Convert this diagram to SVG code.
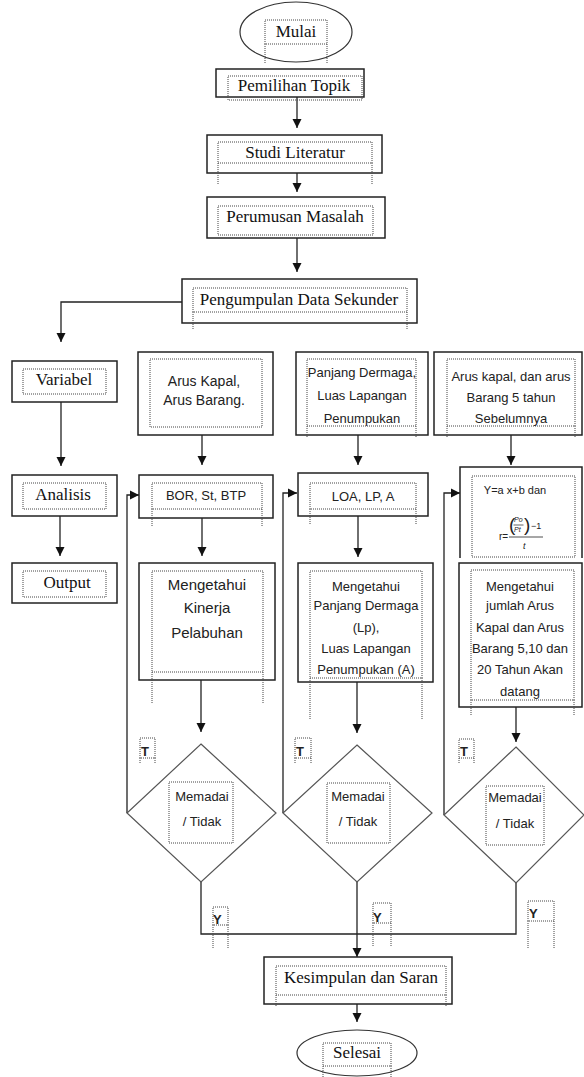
<svg xmlns="http://www.w3.org/2000/svg" width="584" height="1077" viewBox="0 0 584 1077">
<defs>
<marker id="ah" viewBox="0 0 10 10" refX="10" refY="5" markerWidth="9" markerHeight="10" markerUnits="userSpaceOnUse" orient="auto"><path d="M0,0 L10,5 L0,10 z" fill="#111"/></marker>
<style>
.box{fill:#fff;stroke:#222;stroke-width:1.5}
.dia{fill:#fff;stroke:#555;stroke-width:1.2}
.dot{fill:none;stroke:#444;stroke-width:1;stroke-dasharray:1 1}
.con{fill:none;stroke:#222;stroke-width:1.3}
.arr{marker-end:url(#ah)}
.ser{font-family:"Liberation Serif","Times New Roman",serif;font-size:17px;fill:#111;text-anchor:middle}
.san{font-family:"Liberation Sans",Arial,sans-serif;font-size:13px;fill:#222;text-anchor:middle}
.big{font-size:15px}
.lbl{font-family:"Liberation Sans",Arial,sans-serif;font-size:13px;font-weight:bold;fill:#222}
.frm{font-family:"Liberation Sans",Arial,sans-serif;fill:#222}
</style>
</defs>
<rect width="584" height="1077" fill="#fff"/>

<g id="connectors">
<path class="con arr" d="M297,97 V128"/>
<path class="con arr" d="M297,173 V192"/>
<path class="con arr" d="M297,238 V272"/>
<path class="con arr" d="M182,302 H61 V342"/>
<path class="con arr" d="M61,402 V466"/>
<path class="con arr" d="M60,516 V556"/>
<path class="con arr" d="M202,435 V465"/>
<path class="con arr" d="M202,518 V556"/>
<path class="con arr" d="M201,680 V732"/>
<path class="con arr" d="M127,813 V495 H139"/>
<path class="con arr" d="M358,435 V465"/>
<path class="con arr" d="M358,516 V557"/>
<path class="con arr" d="M357,682 V733"/>
<path class="con arr" d="M283,813 V493 H297"/>
<path class="con arr" d="M511,435 V465"/>
<path class="con arr" d="M516,707 V742"/>
<path class="con arr" d="M444,815 V493 H460"/>
<path class="con" d="M201,882 V934 H516 V883"/>
<path class="con arr" d="M357,882 V957"/>
<path class="con arr" d="M357,1004 V1022"/>
</g>

<g id="mulai">
<ellipse class="dia" cx="296" cy="32" rx="56" ry="30" style="stroke:#333"/>
<rect class="dot" x="265" y="20" width="62" height="24"/>
<path class="dot" d="M265,44 V63 M327,44 V63"/>
<text class="ser" x="296" y="37">Mulai</text>
</g>

<g id="pemilihan">
<rect class="box" x="216" y="69" width="148" height="28"/>
<rect class="dot" x="228" y="76" width="134" height="24"/>
<text class="ser" x="294" y="91">Pemilihan Topik</text>
</g>

<g id="studi">
<rect class="box" x="207" y="135" width="175" height="38"/>
<rect class="dot" x="218" y="142" width="154" height="21"/>
<path class="dot" d="M218,163 V185 M372,163 V185"/>
<text class="ser" x="295" y="158">Studi Literatur</text>
</g>

<g id="perumusan">
<rect class="box" x="207" y="197" width="178" height="41"/>
<rect class="dot" x="218" y="206" width="155" height="29"/>
<text class="ser" x="295" y="222">Perumusan Masalah</text>
</g>

<g id="pengumpulan">
<rect class="box" x="182" y="279" width="235" height="44"/>
<rect class="dot" x="193" y="288" width="214" height="24"/>
<path class="dot" d="M193,312 V330 M407,312 V330"/>
<text class="ser" x="299" y="305">Pengumpulan Data Sekunder</text>
</g>

<g id="variabel">
<rect class="box" x="12" y="361" width="105" height="41"/>
<rect class="dot" x="23" y="369" width="83" height="25"/>
<text class="ser" x="64" y="385">Variabel</text>
</g>

<g id="analisis">
<rect class="box" x="12" y="475" width="105" height="41"/>
<rect class="dot" x="23" y="483" width="83" height="26"/>
<text class="ser" x="63" y="500">Analisis</text>
</g>

<g id="output">
<rect class="box" x="12" y="563" width="105" height="40"/>
<rect class="dot" x="23" y="571" width="83" height="26"/>
<text class="ser" x="67" y="588">Output</text>
</g>

<g id="arus-kapal">
<rect class="box" x="138" y="352" width="135" height="83"/>
<rect class="dot" x="150" y="359" width="112" height="68"/>
<text class="san" x="204" y="386" style="font-size:14px">Arus Kapal,</text>
<text class="san" x="204" y="405" style="font-size:14px">Arus Barang.</text>
</g>

<g id="bor">
<rect class="box" x="139" y="475" width="134" height="43"/>
<rect class="dot" x="152" y="483" width="110" height="26"/>
<path class="dot" d="M152,509 V526 M262,509 V526"/>
<text class="san" x="206" y="500">BOR, St, BTP</text>
</g>

<g id="kinerja">
<rect class="box" x="139" y="563" width="136" height="117"/>
<rect class="dot" x="152" y="571" width="111" height="101"/>
<path class="dot" d="M152,672 V703 M263,672 V703"/>
<text class="san big" x="207" y="590">Mengetahui</text>
<text class="san big" x="207" y="613">Kinerja</text>
<text class="san big" x="207" y="638">Pelabuhan</text>
</g>

<g id="panjang">
<rect class="box" x="296" y="352" width="132" height="83"/>
<rect class="dot" x="307" y="359" width="109" height="67"/>
<path class="dot" d="M307,426 V437 M416,426 V437"/>
<text class="san" x="362" y="377">Panjang Dermaga,</text>
<text class="san" x="362" y="400">Luas Lapangan</text>
<text class="san" x="362" y="423">Penumpukan</text>
</g>

<g id="loa">
<rect class="box" x="298" y="473" width="130" height="43"/>
<rect class="dot" x="310" y="483" width="106" height="26"/>
<path class="dot" d="M310,509 V525 M416,509 V525"/>
<text class="san" x="363" y="501">LOA, LP, A</text>
</g>

<g id="meng-panjang">
<rect class="box" x="298" y="563" width="135" height="119"/>
<rect class="dot" x="310" y="571" width="112" height="107"/>
<path class="dot" d="M310,678 V720 M422,678 V720"/>
<text class="san" x="366" y="591">Mengetahui</text>
<text class="san" x="366" y="610">Panjang Dermaga</text>
<text class="san" x="366" y="632">(Lp),</text>
<text class="san" x="366" y="653">Luas Lapangan</text>
<text class="san" x="366" y="674">Penumpukan (A)</text>
</g>

<g id="arus-5">
<rect class="box" x="434" y="352" width="148" height="83"/>
<rect class="dot" x="447" y="359" width="128" height="67"/>
<path class="dot" d="M447,426 V437 M575,426 V437"/>
<text class="san" x="511" y="381">Arus kapal, dan arus</text>
<text class="san" x="511" y="402">Barang 5 tahun</text>
<text class="san" x="511" y="423">Sebelumnya</text>
</g>

<g id="rumus">
<path class="box" style="fill:none" d="M460,558 V467 H582 V558"/>
<rect class="dot" x="472" y="476" width="103" height="81"/>
<text class="san" x="515" y="494" style="font-size:11px">Y=a x+b dan</text>
<text class="frm" x="499" y="540" style="font-size:10px">r=</text>
<text class="frm" x="509" y="531" style="font-size:19px;font-weight:300">(</text>
<text class="frm" x="514" y="522" style="font-size:7px;font-style:italic">Po</text>
<path d="M513.5,525 H523.5" stroke="#222" stroke-width="0.7"/>
<text class="frm" x="514" y="532" style="font-size:7px;font-style:italic">Pt</text>
<text class="frm" x="524" y="531" style="font-size:19px;font-weight:300">)</text>
<text class="frm" x="531" y="529" style="font-size:9px">−1</text>
<path d="M509,537 H543" stroke="#222" stroke-width="0.8"/>
<text class="frm" x="523" y="549" style="font-size:9px;font-style:italic">t</text>
</g>

<g id="meng-jumlah">
<rect class="box" x="459" y="563" width="123" height="144"/>
<rect class="dot" x="471" y="570" width="103" height="130"/>
<path class="dot" d="M471,700 V715 M574,700 V715"/>
<text class="san" x="520" y="591">Mengetahui</text>
<text class="san" x="520" y="610">jumlah Arus</text>
<text class="san" x="520" y="632">Kapal dan Arus</text>
<text class="san" x="520" y="653">Barang 5,10 dan</text>
<text class="san" x="520" y="674">20 Tahun Akan</text>
<text class="san" x="520" y="696">datang</text>
</g>

<g id="keputusan-1">
<polygon class="dia" points="201,744 276,813 201,882 127,813"/>
<rect class="dot" x="169" y="782" width="64" height="61"/>
<text class="san" x="202" y="801">Memadai</text>
<text class="san" x="202" y="826">/ Tidak</text>
</g>

<g id="keputusan-2">
<polygon class="dia" points="357,745 432,813 357,882 283,813"/>
<rect class="dot" x="327" y="783" width="63" height="60"/>
<text class="san" x="358" y="801">Memadai</text>
<text class="san" x="358" y="826">/ Tidak</text>
</g>

<g id="keputusan-3">
<polygon class="dia" points="516,747 584,815 516,883 444,815"/>
<rect class="dot" x="486" y="786" width="58" height="59"/>
<text class="san" x="515" y="802">Memadai</text>
<text class="san" x="515" y="828">/ Tidak</text>
</g>

<g id="label-t">
<rect class="dot" x="140" y="738" width="15" height="20"/>
<path class="dot" d="M140,758 V763 M155,758 V763"/>
<text class="lbl" x="141" y="756">T</text>
<rect class="dot" x="295" y="738" width="16" height="20"/>
<path class="dot" d="M295,758 V763 M311,758 V763"/>
<text class="lbl" x="296" y="756">T</text>
<rect class="dot" x="459" y="739" width="15" height="19"/>
<path class="dot" d="M459,758 V763 M474,758 V763"/>
<text class="lbl" x="460" y="756">T</text>
</g>

<g id="label-y">
<rect class="dot" x="213" y="907" width="15" height="18"/>
<path class="dot" d="M213,925 V948 M228,925 V948"/>
<text class="lbl" x="213" y="924">Y</text>
<rect class="dot" x="373" y="903" width="18" height="20"/>
<path class="dot" d="M373,923 V946 M391,923 V946"/>
<text class="lbl" x="373" y="922">Y</text>
<rect class="dot" x="528" y="901" width="26" height="20"/>
<path class="dot" d="M528,921 V948 M554,921 V948"/>
<text class="lbl" x="529" y="918">Y</text>
</g>

<g id="kesimpulan">
<rect class="box" x="264" y="957" width="188" height="47"/>
<rect class="dot" x="276" y="966" width="170" height="29"/>
<path class="dot" d="M276,995 V1007 M446,995 V1007"/>
<text class="ser" x="361" y="983">Kesimpulan dan Saran</text>
</g>

<g id="selesai">
<ellipse class="dia" cx="357" cy="1053" rx="60" ry="23" style="stroke:#333"/>
<rect class="dot" x="323" y="1043" width="68" height="23"/>
<path class="dot" d="M323,1066 V1077 M391,1066 V1077"/>
<text class="ser" x="357" y="1058">Selesai</text>
</g>
</svg>
